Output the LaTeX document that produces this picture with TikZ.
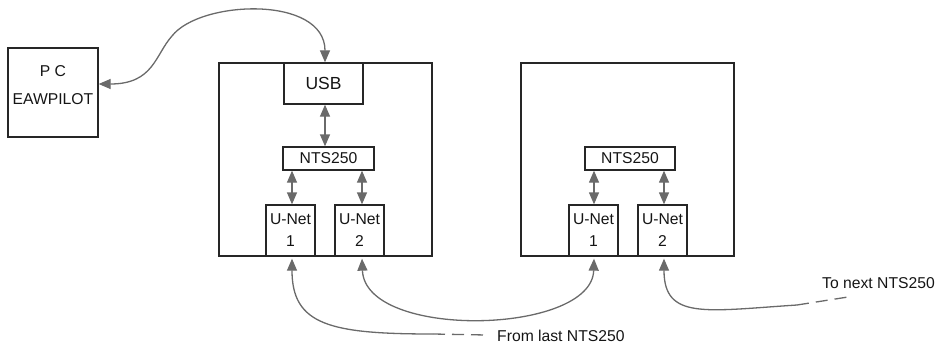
\documentclass[tikz,border=0pt]{standalone}
\usepackage{fontspec}
\setmainfont{Liberation Sans}
\usetikzlibrary{arrows.meta,calc}
\definecolor{boxc}{HTML}{262626}
\definecolor{txtc}{HTML}{151515}
\definecolor{arrc}{HTML}{6A6A6A}
\begin{document}
\begin{tikzpicture}[x=1pt,y=-1pt,
  every node/.style={font=\fontsize{15.7pt}{22pt}\selectfont,text=txtc},
  box/.style 2 args={draw=boxc,line width=1.3pt,inner sep=0pt,minimum width=#1,minimum height=#2},
  conn/.style={draw=arrc,line width=1.3pt},
  tipa/.tip={Triangle[length=12pt,width=10pt]},
  dbl/.style={conn,tipa-tipa},
  dashline/.style={conn,dash pattern=on 12pt off 7pt},
  lbl/.style={anchor=west,inner sep=0pt}]
\useasboundingbox (0,0) rectangle (937,345);
% PC
\node[box={90pt}{89pt}] (pc) at (53,92.5) {};
\node[align=center,font=\fontsize{15.7pt}{28pt}\selectfont] (pctext) at (53,85) {P C\\EAWPILOT};
% device 1
\node[box={213pt}{193pt}] (dev1) at (325.5,159.5) {};
\node[box={79pt}{41pt},font=\fontsize{17.5pt}{20pt}\selectfont] (usb) at (323.5,83.5) {USB};
\node[box={91pt}{23pt}] (nts1) at (328.5,158.5) {NTS250};
\node[box={49pt}{51pt},align=center] (u11) at (290.5,230.5) {U-Net\\1};
\node[box={49pt}{51pt},align=center] (u12) at (359.5,230.5) {U-Net\\2};
% device 2
\node[box={213pt}{193pt}] (dev2) at (627.5,159.5) {};
\node[box={90pt}{23pt}] (nts2) at (630,158.5) {NTS250};
\node[box={49pt}{51pt},align=center] (u21) at (593.5,230.5) {U-Net\\1};
\node[box={49pt}{51pt},align=center] (u22) at (662.5,230.5) {U-Net\\2};
% internal arrows
\draw[dbl] ([xshift=1.5pt]usb.south) -- ([xshift=1.5pt]usb.south |- nts1.north);
\draw[dbl] ([xshift=1.5pt]u11.north |- nts1.south) -- ([xshift=1.5pt]u11.north);
\draw[dbl] ([xshift=2.5pt]u12.north |- nts1.south) -- ([xshift=2.5pt]u12.north);
\draw[dbl] ([xshift=0.5pt]u21.north |- nts2.south) -- ([xshift=0.5pt]u21.north);
\draw[dbl] ([xshift=1.5pt]u22.north |- nts2.south) -- ([xshift=1.5pt]u22.north);
% PC <-> USB
\coordinate (via) at (172,36);
\draw[dbl] ([yshift=8.5pt]pc.east) .. controls +(55,0) and (155,55) .. (via)
  .. controls (200,0) and (325,-5) .. ([xshift=1.5pt]usb.north);
% from last
\node[lbl] (fltext) at (497,336) {From last NTS250};
\coordinate (fl) at (433,334);
\draw[conn,tipa-] ([xshift=1.5pt,yshift=-2pt]u11.south) .. controls (292,325) and (330,334) .. (fl);
\draw[dashline] (fl) -- ([xshift=-11pt,yshift=1pt]fltext.west);
% between devices
\draw[dbl] ([xshift=2.5pt,yshift=-2pt]u12.south) .. controls (365,340) and (592,335) .. ([xshift=0.5pt,yshift=-2pt]u21.south);
% to next
\node[lbl] (tntext) at (822,283) {To next NTS250};
\coordinate (tn) at (797,305);
\coordinate (tne) at (848,297);
\draw[conn,tipa-] ([xshift=1.5pt,yshift=-2pt]u22.south) .. controls (664,320) and (705,311) .. (tn);
\draw[dashline] (tn) -- (tne);
\end{tikzpicture}
\end{document}
